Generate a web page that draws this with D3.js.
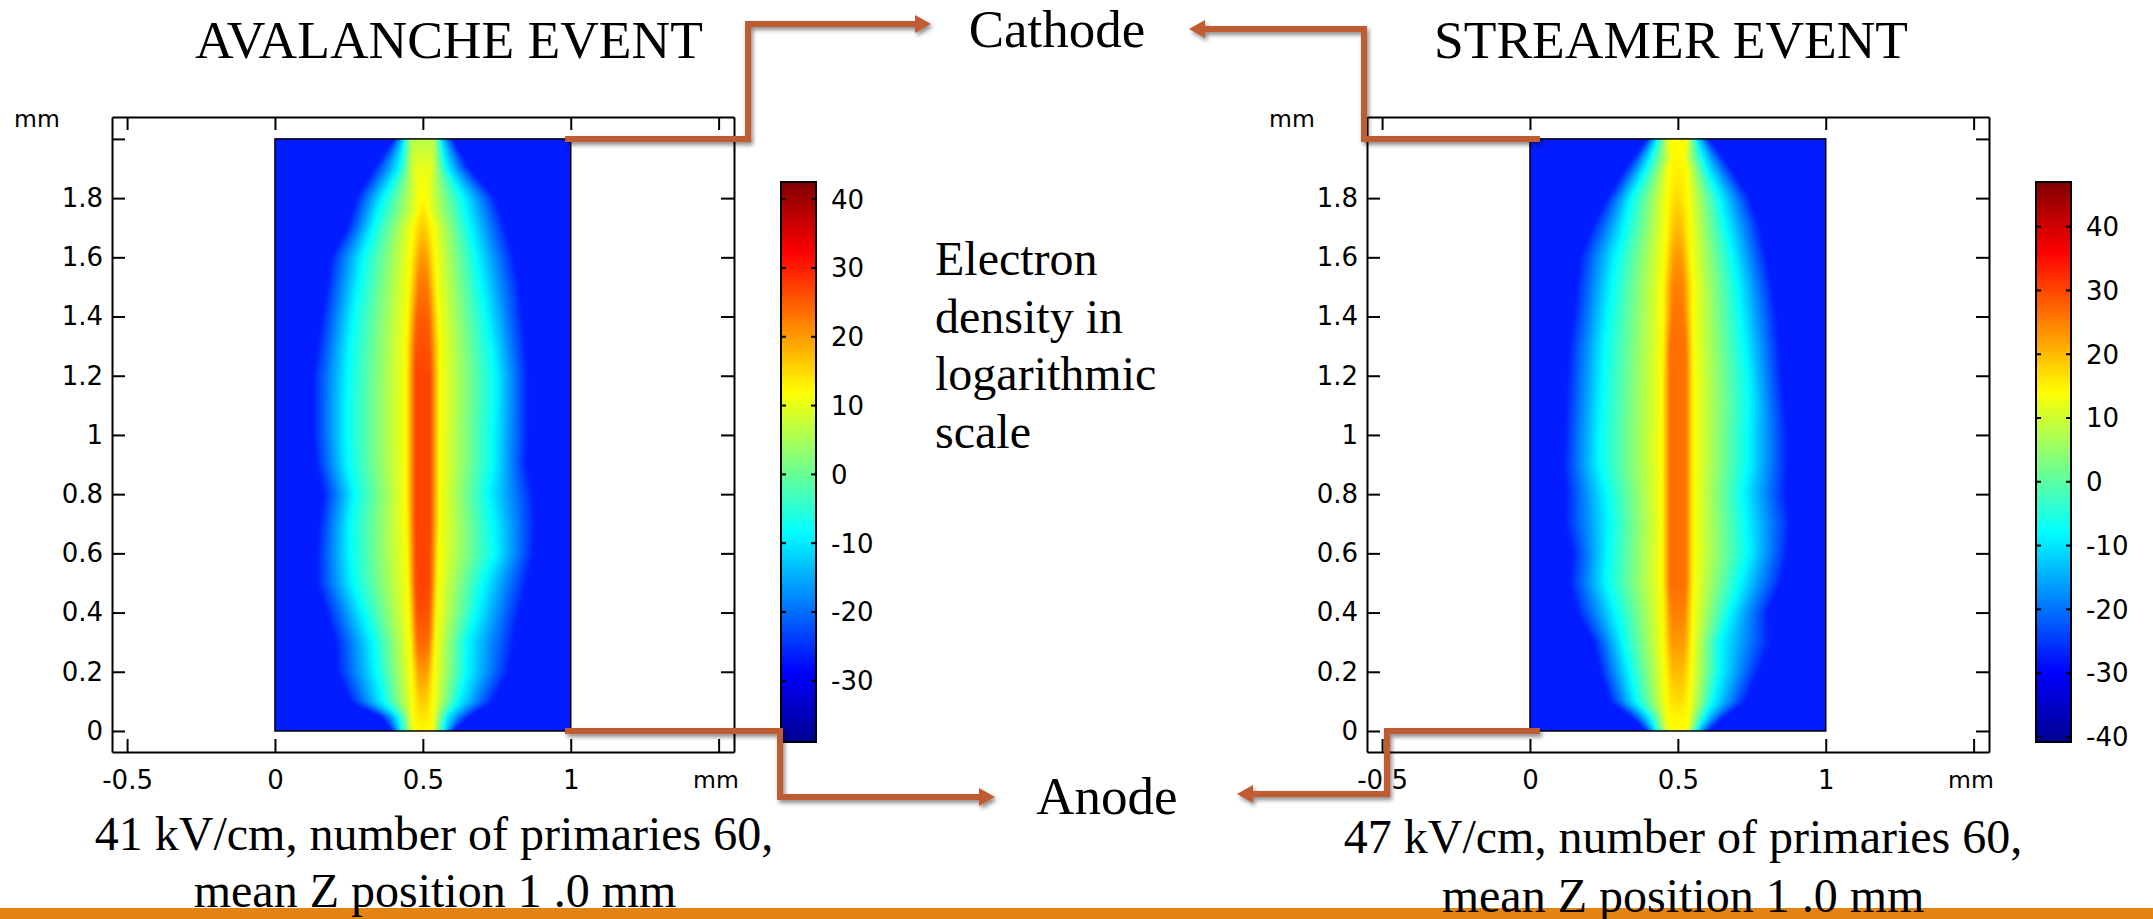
<!DOCTYPE html>
<html lang="en">
<head>
  <meta charset="UTF-8">
  <title>Avalanche and streamer electron density</title>
  <style>
    html, body { margin: 0; background: #fff; }
    svg { display: block; }
    .serif { font-family: "Liberation Serif", serif; fill: #000; }
    .axis text, .unit, .cbLabel { font-family: "DejaVu Sans", sans-serif; font-size: 26px; fill: #000; }
    .unit { font-size: 23.5px; }
    .axis path, .axis line { stroke: #000; stroke-width: 2px; }
  </style>
</head>
<body>
  <svg width="2153" height="919"></svg>
  <script src="https://d3js.org/d3.v7.min.js"></script>
  <script>
    const width = 2153, height = 919;

    // rows of the read-off profiles, mm along the gap
    const rowsY = [2, 1.9, 1.8, 1.7, 1.6, 1.5, 1.4, 1.3, 1.2, 1.1, 1, 0.9, 0.8, 0.7, 0.6, 0.5, 0.4, 0.3, 0.2, 0.1, 0.05, 0];

    // avalanche panel: x (mm) of blue edge and cyan contour, half widths of yellow contour and core, peak value
    const avaEdgeL = [.405, .335, .275, .245, .190, .175, .160, .145, .130, .130, .130, .140, .165, .150, .142, .142, .175, .205, .212, .255, .360, .398];
    const avaEdgeR = [.597, .655, .745, .778, .806, .826, .836, .845, .855, .855, .855, .850, .873, .879, .873, .851, .825, .808, .788, .735, .655, .600];
    const avaCyanL = [.439, .422, .366, .332, .298, .281, .264, .253, .247, .242, .242, .247, .268, .253, .253, .264, .298, .332, .343, .366, .417, .428];
    const avaCyanR = [.558, .580, .636, .659, .682, .698, .715, .732, .744, .744, .738, .738, .721, .738, .744, .704, .682, .648, .648, .620, .580, .569];
    const avaYellow = [0, 0, 0, .034, .041, .046, .051, .055, .056, .056, .056, .056, .056, .055, .052, .049, .046, .042, .037, .034, .034, .033];
    const avaCore = [.04, .03, .01, .008, .012, .016, .02, .024, .026, .026, .026, .026, .026, .026, .025, .025, .022, .02, .016, .012, .012, .012];
    const avaPeak = [6, 10, 12, 16, 20, 23, 25, 26, 27, 27, 27, 27, 27, 27, 27, 27, 26, 24, 20, 16, 14, 12.5];

    // streamer panel, same columns
    const strEdgeL = [.398, .325, .262, .210, .170, .158, .148, .133, .128, .122, .118, .113, .122, .118, .145, .134, .160, .215, .238, .272, .342, .396];
    const strEdgeR = [.602, .678, .742, .778, .798, .818, .833, .843, .849, .860, .870, .870, .865, .880, .870, .848, .805, .812, .772, .728, .658, .600];
    const strCyanL = [.432, .393, .342, .320, .291, .275, .263, .252, .246, .241, .235, .235, .258, .269, .263, .258, .291, .314, .337, .359, .404, .427];
    const strCyanR = [.562, .596, .641, .663, .686, .703, .714, .726, .737, .743, .737, .737, .720, .731, .737, .709, .675, .641, .641, .618, .590, .562];
    const strYellow = [0, .030, .036, .040, .044, .050, .050, .050, .052, .052, .052, .052, .052, .052, .052, .052, .050, .048, .044, .040, .036, .034];
    const strCore = [.03, .012, .008, .01, .014, .018, .02, .028, .028, .028, .028, .028, .028, .028, .028, .028, .024, .022, .018, .014, .012, .012];
    const strPeak = [14, 15, 17, 20, 23, 25, 26, 26.5, 26.5, 26.5, 26.5, 26.5, 26.5, 26.5, 26.5, 26.5, 25, 23, 20, 17, 15, 14];

    // colour ranges and labels
    const avaRange = [-38.9, 42.5];
    const strRange = [-40.8, 47];
    const avaCbTicks = [40, 30, 20, 10, 0, -10, -20, -30];
    const strCbTicks = [40, 30, 20, 10, 0, -10, -20, -30, -40];
    const yTicks = [0, 0.2, 0.4, 0.6, 0.8, 1, 1.2, 1.4, 1.6, 1.8, 2];
    const xTicks = [-0.5, 0, 0.5, 1, 1.5];
    const jetStops = [0, 1 / 8, 3 / 8, 5 / 8, 7 / 8, 1];
    const jetColors = ["#00008f", "#0000ff", "#00ffff", "#ffff00", "#ff0000", "#800000"];

    const svg = d3.select("svg");

    const defs = svg.append("defs");
    defs.append("filter").attr("id", "shadow")
      .attr("x", "-10%").attr("y", "-10%").attr("width", "120%").attr("height", "130%")
      .append("feDropShadow")
      .attr("dx", 2).attr("dy", 3).attr("stdDeviation", 2)
      .attr("flood-color", "#000").attr("flood-opacity", 0.45);
    defs.append("filter").attr("id", "soft")
      .attr("x", "-5%").attr("y", "-5%").attr("width", "110%").attr("height", "110%")
      .append("feGaussianBlur").attr("stdDeviation", 1.6);

    function drawField(g, x, y, range, p, clipId) {
      const jet = d3.scaleLinear()
        .domain(jetStops.map(t => range[0] + t * (range[1] - range[0])))
        .range(jetColors)
        .clamp(true);
      const yellowValue = range[0] + 5 / 8 * (range[1] - range[0]);
      const cyanValue = range[0] + 3 / 8 * (range[1] - range[0]);
      const background = range[0] + 0.154 * (range[1] - range[0]);

      const along = arr => d3.scaleLinear().domain(rowsY).range(arr).clamp(true);
      const edgeL = along(p.edgeL), edgeR = along(p.edgeR);
      const cyanL = along(p.cyanL), cyanR = along(p.cyanR);
      const yellow = along(p.yellow), core = along(p.core), peak = along(p.peak);

      // bigger than the 0..1 x 0..2 box so the blur has no white rim, clipped below
      const pad = 8;
      const x0 = Math.round(x(0)) - pad, x1 = Math.round(x(1)) + pad;
      const y0 = Math.round(y(2)) - pad, y1 = Math.round(y(0)) + pad;
      const canvas = document.createElement("canvas");
      canvas.width = x1 - x0;
      canvas.height = y1 - y0;
      const ctx = canvas.getContext("2d");

      for (let py = y0; py < y1; py++) {
        const v = y.invert(py + 0.5);
        const pk = peak(v), ye = yellow(v), co = core(v);
        const stops = [[edgeL(v), background], [cyanL(v), cyanValue]];
        if (ye > co && pk > yellowValue) stops.push([0.5 - ye, yellowValue]);
        stops.push([0.5 - co, pk], [0.5 + co, pk]);
        if (ye > co && pk > yellowValue) stops.push([0.5 + ye, yellowValue]);
        stops.push([cyanR(v), cyanValue], [edgeR(v), background]);
        const across = d3.scaleLinear()
          .domain(stops.map(s => s[0]))
          .range(stops.map(s => s[1]))
          .clamp(true);
        for (let px = x0; px < x1; px++) {
          ctx.fillStyle = jet(across(x.invert(px + 0.5)));
          ctx.fillRect(px - x0, py - y0, 1, 1);
        }
      }

      defs.append("clipPath").attr("id", clipId)
        .append("rect")
        .attr("x", x(0)).attr("y", y(2))
        .attr("width", x(1) - x(0)).attr("height", y(0) - y(2));

      g.append("g").attr("clip-path", `url(#${clipId})`)
        .append("image")
        .attr("x", x0).attr("y", y0)
        .attr("width", x1 - x0).attr("height", y1 - y0)
        .attr("href", canvas.toDataURL())
        .attr("filter", "url(#soft)");

      g.append("rect")
        .attr("x", x(0)).attr("y", y(2))
        .attr("width", x(1) - x(0)).attr("height", y(0) - y(2))
        .attr("fill", "none").attr("stroke", "#000").attr("stroke-width", 1.5);
    }

    function drawFrame(g, x, y, left, right, top, bottom) {
      const inner = -13;
      // no number at 1.5 on the bottom axis, the unit sits there instead
      g.append("g").attr("class", "axis").attr("transform", `translate(0,${bottom})`)
        .call(d3.axisBottom(x).tickValues(xTicks).tickSizeInner(inner).tickSizeOuter(0).tickPadding(19)
          .tickFormat(d => d === 1.5 ? "" : String(d)));
      g.append("g").attr("class", "axis").attr("transform", `translate(0,${top})`)
        .call(d3.axisTop(x).tickValues(xTicks).tickSizeInner(inner).tickSizeOuter(0).tickFormat(""));
      g.append("g").attr("class", "axis").attr("transform", `translate(${left},0)`)
        .call(d3.axisLeft(y).tickValues(yTicks).tickSizeInner(inner).tickSizeOuter(0).tickPadding(9)
          .tickFormat(d => d === 2 ? "" : String(d)));
      g.append("g").attr("class", "axis").attr("transform", `translate(${right},0)`)
        .call(d3.axisRight(y).tickValues(yTicks).tickSizeInner(inner).tickSizeOuter(0).tickFormat(""));

      g.append("text").attr("class", "unit").attr("x", left - 98).attr("y", 127).text("mm");
      g.append("text").attr("class", "unit").attr("x", right - 41).attr("y", 788).text("mm");
    }

    function drawColorbar(g, cx, range, ticks, topY, botY) {
      const barW = 35;
      const c = d3.scaleLinear().domain(range).range([botY, topY]);
      const jet = d3.scaleLinear()
        .domain(jetStops.map(t => range[0] + t * (range[1] - range[0])))
        .range(jetColors);
      const steps = d3.range(botY - topY).map(i => c.invert(topY + i + 0.5));

      g.append("g").selectAll("rect")
        .data(steps)
        .join("rect")
        .attr("x", cx)
        .attr("y", d => Math.floor(c(d)))
        .attr("width", barW)
        .attr("height", 1.5)
        .attr("fill", d => jet(d));

      g.append("rect")
        .attr("x", cx).attr("y", topY).attr("width", barW).attr("height", botY - topY)
        .attr("fill", "none").attr("stroke", "#000").attr("stroke-width", 2);

      const tick = g.append("g").selectAll("g").data(ticks).join("g")
        .attr("transform", d => `translate(0,${c(d)})`);
      tick.append("line").attr("x1", cx).attr("x2", cx + 5).attr("stroke", "#000").attr("stroke-width", 2);
      tick.append("line").attr("x1", cx + barW - 5).attr("x2", cx + barW).attr("stroke", "#000").attr("stroke-width", 2);
      tick.append("text").attr("class", "cbLabel")
        .attr("x", cx + barW + 15).attr("dy", "0.36em").text(d => d);
    }

    function drawPanel(dx, range, ticks, p, clipId, cbX) {
      const left = 112 + dx, right = 734 + dx, top = 117, bottom = 752;
      const x = d3.scaleLinear().domain([-0.551, 1.552]).range([left, right]);
      const y = d3.scaleLinear().domain([-0.071, 2.074]).range([bottom, top]);
      const g = svg.append("g");
      drawField(g, x, y, range, p, clipId);
      drawFrame(g, x, y, left, right, top, bottom);
      drawColorbar(g, cbX, range, ticks, 182, 742);
    }

    drawPanel(0, avaRange, avaCbTicks, {
      edgeL: avaEdgeL, edgeR: avaEdgeR, cyanL: avaCyanL, cyanR: avaCyanR,
      yellow: avaYellow, core: avaCore, peak: avaPeak
    }, "clipAva", 781);

    drawPanel(1255, strRange, strCbTicks, {
      edgeL: strEdgeL, edgeR: strEdgeR, cyanL: strCyanL, cyanR: strCyanR,
      yellow: strYellow, core: strCore, peak: strPeak
    }, "clipStr", 2036);

    // orange strip along the bottom, the captions sit on top of it
    svg.append("rect").attr("x", 0).attr("y", 908).attr("width", width).attr("height", height - 908).attr("fill", "#e48312");

    const texts = [
      { t: "AVALANCHE EVENT", x: 449, y: 58, s: 53.5 },
      { t: "STREAMER EVENT", x: 1671, y: 58, s: 53.5 },
      { t: "Cathode", x: 1057, y: 47, s: 53 },
      { t: "Anode", x: 1107, y: 814, s: 53 },
      { t: "41 kV/cm, number of primaries 60,", x: 434, y: 850, s: 48 },
      { t: "mean Z position 1 .0 mm", x: 435, y: 907, s: 48 },
      { t: "47 kV/cm, number of primaries 60,", x: 1683, y: 853, s: 48 },
      { t: "mean Z position 1 .0 mm", x: 1683, y: 912, s: 48 }
    ];
    svg.append("g").selectAll("text").data(texts).join("text")
      .attr("class", "serif")
      .attr("x", d => d.x).attr("y", d => d.y)
      .attr("text-anchor", "middle")
      .attr("font-size", d => d.s)
      .text(d => d.t);

    const note = ["Electron", "density in", "logarithmic", "scale"];
    svg.append("g").selectAll("text").data(note).join("text")
      .attr("class", "serif")
      .attr("x", 935).attr("y", (d, i) => 275 + i * 57.7)
      .attr("font-size", 48)
      .text(d => d);

    // brown connector arrows, each ends in a small head
    const arrows = [
      [[565, 139], [748, 139], [748, 24], [916, 24]],
      [[1540, 139], [1364, 139], [1364, 29], [1204, 29]],
      [[565, 731], [780, 731], [780, 797], [980, 797]],
      [[1540, 731], [1387, 731], [1387, 794], [1252, 794]]
    ];
    const line = d3.line();
    const arrowG = svg.append("g").attr("filter", "url(#shadow)");
    arrows.forEach(pts => {
      arrowG.append("path").attr("d", line(pts))
        .attr("fill", "none").attr("stroke", "#bf5b30").attr("stroke-width", 6);
      const [ax, ay] = pts[pts.length - 1];
      const dir = Math.sign(ax - pts[pts.length - 2][0]);
      arrowG.append("path")
        .attr("d", line([[ax - dir, ay - 9], [ax + dir * 15, ay], [ax - dir, ay + 9]]) + "Z")
        .attr("fill", "#bf5b30");
    });
  </script>
</body>
</html>
